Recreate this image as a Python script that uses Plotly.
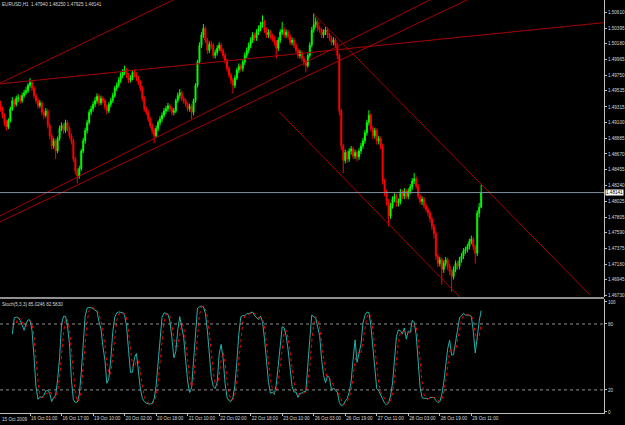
import numpy as np
import pandas as pd
import plotly.graph_objects as go

# ---------------- data (EURUSD H1) ----------------
OPEN = [
1.4935,1.4929,1.4920,1.4910,1.4904,1.4913,1.4929,1.4940,1.4935,1.4943,
1.4944,1.4940,1.4947,1.4951,1.4954,1.4961,1.4965,1.4957,1.4947,1.4940,
1.4933,1.4937,1.4924,1.4920,1.4926,1.4906,1.4892,1.4878,1.4885,1.4871,
1.4888,1.4902,1.4906,1.4899,1.4910,1.4902,1.4892,1.4885,1.4860,1.4844,
1.4837,1.4847,1.4871,1.4885,1.4899,1.4910,1.4924,1.4929,1.4935,1.4940,
1.4946,1.4937,1.4943,1.4940,1.4932,1.4926,1.4935,1.4940,1.4947,1.4957,
1.4961,1.4968,1.4975,1.4979,1.4982,1.4975,1.4968,1.4971,1.4979,1.4976,
1.4971,1.4965,1.4957,1.4943,1.4929,1.4924,1.4915,1.4906,1.4899,1.4892,
1.4902,1.4910,1.4915,1.4920,1.4926,1.4929,1.4933,1.4929,1.4924,1.4926,
1.4940,1.4947,1.4951,1.4943,1.4940,1.4935,1.4929,1.4932,1.4924,1.4940,
1.4961,1.4993,1.5016,1.5030,1.5039,1.5023,1.5009,1.5017,1.5016,1.5002,
1.5006,1.5012,1.5016,1.5009,1.5002,1.4995,1.4984,1.4975,1.4968,1.4961,
1.4971,1.4982,1.4987,1.4984,1.4993,1.5002,1.5009,1.5016,1.5023,1.5030,
1.5026,1.5034,1.5039,1.5044,1.5048,1.5037,1.5030,1.5034,1.5028,1.5026,
1.5020,1.5012,1.5023,1.5034,1.5037,1.5030,1.5034,1.5028,1.5020,1.5023,
1.5016,1.5009,1.5002,1.5006,1.4998,1.4993,1.4988,1.5002,1.5016,1.5037,
1.5044,1.5048,1.5039,1.5037,1.5030,1.5034,1.5037,1.5030,1.5026,1.5020,
1.5023,1.5016,1.5002,1.4926,1.4878,1.4858,1.4869,1.4860,1.4871,1.4874,
1.4864,1.4869,1.4863,1.4871,1.4878,1.4885,1.4896,1.4910,1.4920,1.4902,
1.4892,1.4899,1.4885,1.4888,1.4878,1.4830,1.4815,1.4802,1.4782,1.4796,
1.4805,1.4809,1.4800,1.4802,1.4815,1.4809,1.4816,1.4809,1.4816,1.4822,
1.4830,1.4833,1.4823,1.4809,1.4802,1.4805,1.4796,1.4791,1.4786,1.4778,
1.4768,1.4758,1.4727,1.4717,1.4722,1.4709,1.4717,1.4722,1.4713,1.4706,
1.4699,1.4709,1.4717,1.4713,1.4722,1.4727,1.4734,1.4736,1.4740,1.4747,
1.4750,1.4740,1.4731,1.4786,1.4794]

HIGH = [
1.4940,1.4932,1.4923,1.4914,1.4916,1.4932,1.4945,1.4943,1.4947,1.4949,
1.4948,1.4951,1.4955,1.4959,1.4964,1.4971,1.4968,1.4960,1.4950,1.4944,
1.4941,1.4939,1.4928,1.4930,1.4929,1.4909,1.4895,1.4889,1.4888,1.4891,
1.4906,1.4910,1.4909,1.4914,1.4913,1.4905,1.4895,1.4888,1.4863,1.4848,
1.4851,1.4874,1.4889,1.4903,1.4914,1.4928,1.4933,1.4939,1.4945,1.4950,
1.4949,1.4947,1.4946,1.4943,1.4935,1.4938,1.4944,1.4951,1.4960,1.4965,
1.4972,1.4979,1.4983,1.4988,1.4985,1.4978,1.4975,1.4982,1.4983,1.4979,
1.4974,1.4968,1.4960,1.4946,1.4932,1.4927,1.4918,1.4909,1.4902,1.4906,
1.4913,1.4919,1.4924,1.4930,1.4933,1.4937,1.4936,1.4932,1.4930,1.4943,
1.4951,1.4956,1.4954,1.4946,1.4943,1.4938,1.4936,1.4935,1.4943,1.4964,
1.4996,1.5020,1.5034,1.5045,1.5042,1.5026,1.5021,1.5022,1.5019,1.5010,
1.5016,1.5020,1.5019,1.5012,1.5005,1.4998,1.4987,1.4978,1.4971,1.4975,
1.4985,1.4991,1.4990,1.4997,1.5006,1.5013,1.5020,1.5027,1.5034,1.5033,
1.5038,1.5043,1.5048,1.5057,1.5051,1.5040,1.5038,1.5037,1.5032,1.5029,
1.5023,1.5027,1.5038,1.5048,1.5041,1.5038,1.5037,1.5031,1.5027,1.5026,
1.5019,1.5012,1.5010,1.5009,1.5001,1.4996,1.5005,1.5020,1.5041,1.5060,
1.5054,1.5051,1.5043,1.5040,1.5038,1.5041,1.5040,1.5033,1.5029,1.5027,
1.5026,1.5019,1.5005,1.4929,1.4881,1.4873,1.4872,1.4875,1.4878,1.4877,
1.4873,1.4872,1.4875,1.4882,1.4889,1.4900,1.4914,1.4927,1.4923,1.4905,
1.4903,1.4902,1.4892,1.4891,1.4881,1.4833,1.4818,1.4805,1.4800,1.4809,
1.4813,1.4812,1.4806,1.4819,1.4818,1.4820,1.4819,1.4820,1.4826,1.4834,
1.4841,1.4836,1.4826,1.4812,1.4809,1.4808,1.4799,1.4794,1.4789,1.4781,
1.4771,1.4761,1.4730,1.4726,1.4725,1.4721,1.4726,1.4725,1.4716,1.4709,
1.4713,1.4721,1.4720,1.4726,1.4731,1.4738,1.4740,1.4744,1.4751,1.4755,
1.4753,1.4743,1.4790,1.4800,1.4825]

LOW = [
1.4925,1.4916,1.4905,1.4899,1.4901,1.4910,1.4926,1.4931,1.4932,1.4938,
1.4936,1.4937,1.4944,1.4948,1.4951,1.4958,1.4953,1.4943,1.4936,1.4929,
1.4930,1.4920,1.4915,1.4917,1.4902,1.4887,1.4873,1.4874,1.4860,1.4868,
1.4885,1.4898,1.4895,1.4896,1.4898,1.4888,1.4880,1.4856,1.4839,1.4827,
1.4833,1.4844,1.4868,1.4881,1.4895,1.4907,1.4920,1.4925,1.4931,1.4936,
1.4933,1.4934,1.4936,1.4928,1.4921,1.4923,1.4931,1.4937,1.4944,1.4953,
1.4958,1.4964,1.4971,1.4975,1.4971,1.4964,1.4965,1.4968,1.4972,1.4967,
1.4961,1.4953,1.4939,1.4925,1.4920,1.4911,1.4902,1.4894,1.4882,1.4889,
1.4898,1.4906,1.4911,1.4917,1.4922,1.4925,1.4925,1.4920,1.4920,1.4923,
1.4937,1.4943,1.4939,1.4936,1.4931,1.4925,1.4925,1.4915,1.4920,1.4937,
1.4958,1.4990,1.5012,1.5026,1.5019,1.5004,1.5005,1.5011,1.4998,1.4998,
1.5002,1.5008,1.5005,1.4998,1.4991,1.4980,1.4971,1.4963,1.4950,1.4957,
1.4968,1.4978,1.4980,1.4980,1.4989,1.4998,1.5005,1.5012,1.5019,1.5022,
1.5022,1.5030,1.5035,1.5040,1.5033,1.5026,1.5026,1.5024,1.5021,1.5015,
1.4998,1.5008,1.5019,1.5030,1.5026,1.5026,1.5024,1.5016,1.5016,1.5012,
1.5005,1.4998,1.4998,1.4994,1.4988,1.4979,1.4985,1.4999,1.5013,1.5033,
1.5040,1.5035,1.5033,1.5026,1.5026,1.5030,1.5026,1.5022,1.5016,1.5016,
1.5012,1.4997,1.4920,1.4872,1.4841,1.4854,1.4855,1.4856,1.4866,1.4860,
1.4860,1.4857,1.4859,1.4867,1.4874,1.4881,1.4892,1.4906,1.4898,1.4887,
1.4888,1.4880,1.4880,1.4873,1.4825,1.4809,1.4796,1.4768,1.4778,1.4792,
1.4801,1.4795,1.4795,1.4798,1.4805,1.4805,1.4805,1.4805,1.4812,1.4818,
1.4826,1.4819,1.4805,1.4798,1.4797,1.4792,1.4787,1.4781,1.4773,1.4763,
1.4751,1.4722,1.4712,1.4713,1.4688,1.4704,1.4713,1.4708,1.4701,1.4678,
1.4695,1.4705,1.4708,1.4709,1.4718,1.4723,1.4730,1.4732,1.4736,1.4743,
1.4735,1.4717,1.4727,1.4780,1.47925]

CLOSE = [
1.4929,1.4920,1.4910,1.4904,1.4913,1.4929,1.4940,1.4935,1.4943,1.4944,
1.4940,1.4947,1.4951,1.4954,1.4961,1.4965,1.4957,1.4947,1.4940,1.4933,
1.4937,1.4924,1.4920,1.4926,1.4906,1.4892,1.4878,1.4885,1.4871,1.4888,
1.4902,1.4906,1.4899,1.4910,1.4902,1.4892,1.4885,1.4860,1.4844,1.4837,
1.4847,1.4871,1.4885,1.4899,1.4910,1.4924,1.4929,1.4935,1.4940,1.4946,
1.4937,1.4943,1.4940,1.4932,1.4926,1.4935,1.4940,1.4947,1.4957,1.4961,
1.4968,1.4975,1.4979,1.4982,1.4975,1.4968,1.4971,1.4979,1.4976,1.4971,
1.4965,1.4957,1.4943,1.4929,1.4924,1.4915,1.4906,1.4899,1.4892,1.4902,
1.4910,1.4915,1.4920,1.4926,1.4929,1.4933,1.4929,1.4924,1.4926,1.4940,
1.4947,1.4951,1.4943,1.4940,1.4935,1.4929,1.4932,1.4924,1.4940,1.4961,
1.4993,1.5016,1.5030,1.5039,1.5023,1.5009,1.5017,1.5016,1.5002,1.5006,
1.5012,1.5016,1.5009,1.5002,1.4995,1.4984,1.4975,1.4968,1.4961,1.4971,
1.4982,1.4987,1.4984,1.4993,1.5002,1.5009,1.5016,1.5023,1.5030,1.5026,
1.5034,1.5039,1.5044,1.5048,1.5037,1.5030,1.5034,1.5028,1.5026,1.5020,
1.5012,1.5023,1.5034,1.5037,1.5030,1.5034,1.5028,1.5020,1.5023,1.5016,
1.5009,1.5002,1.5006,1.4998,1.4993,1.4988,1.5002,1.5016,1.5037,1.5044,
1.5048,1.5039,1.5037,1.5030,1.5034,1.5037,1.5030,1.5026,1.5020,1.5023,
1.5016,1.5002,1.4926,1.4878,1.4858,1.4869,1.4860,1.4871,1.4874,1.4864,
1.4869,1.4863,1.4871,1.4878,1.4885,1.4896,1.4910,1.4920,1.4902,1.4892,
1.4899,1.4885,1.4888,1.4878,1.4830,1.4815,1.4802,1.4782,1.4796,1.4805,
1.4809,1.4800,1.4802,1.4815,1.4809,1.4816,1.4809,1.4816,1.4822,1.4830,
1.4833,1.4823,1.4809,1.4802,1.4805,1.4796,1.4791,1.4786,1.4778,1.4768,
1.4758,1.4727,1.4717,1.4722,1.4709,1.4717,1.4722,1.4713,1.4706,1.4699,
1.4709,1.4717,1.4713,1.4722,1.4727,1.4734,1.4736,1.4740,1.4747,1.4750,
1.4740,1.4731,1.4786,1.4794,1.48141]

# time-axis labels (bar index -> label)
TICK_BARS = [15, 31, 47, 63, 79, 95, 111, 127, 143, 159, 175, 191, 207, 223, 239]
TICK_TEXT = ["16 Oct 01:00", "16 Oct 17:00", "19 Oct 10:00", "20 Oct 02:00",
             "20 Oct 18:00", "21 Oct 10:00", "22 Oct 02:00", "22 Oct 18:00",
             "23 Oct 10:00", "26 Oct 03:00", "26 Oct 19:00", "27 Oct 11:00",
             "28 Oct 03:00", "28 Oct 19:00", "29 Oct 11:00"]
FIRST_LABEL = "15 Oct 2009"

PRICE_TICKS = [1.50610, 1.50395, 1.50180, 1.49965, 1.49750, 1.49535, 1.49315,
               1.49100, 1.48885, 1.48670, 1.48455, 1.48240, 1.48025, 1.47805,
               1.47590, 1.47375, 1.47160, 1.46945, 1.46730]
STOCH_TICKS = [0, 20, 80, 100]
STOCH_LEVELS = [20, 80]
LAST_PRICE = 1.48141

# trendlines: (bar, price) anchors
TL_X0 = [-0.25, -0.25, -0.25, -0.25, 158.6, 141.4]
TL_Y0 = [1.4964, 1.4963, 1.4782, 1.4774, 1.5060, 1.4925]
TL_X1 = [100.0, 306.35, 240.0, 250.0, 299.2, 236.0]
TL_Y1 = [1.5094, 1.5047, 1.5108, 1.5095, 1.4674, 1.4663]

TITLE = "EURUSD,H1  1.47940 1.48250 1.47925 1.48141"
STOCH_TITLE = "Stoch(5,3,3) 85.0246 82.5830"

# ---------------- indicator ----------------
bars = np.arange(len(CLOSE))
df = pd.DataFrame({"h": HIGH, "l": LOW, "c": CLOSE})
ll = df["l"].rolling(5).min()
hh = df["h"].rolling(5).max()
num = (df["c"] - ll).rolling(3).sum()
den = (hh - ll).rolling(3).sum()
stoch_main = 100 * num / den
stoch_sig = stoch_main.rolling(3).mean()

# ---------------- figure ----------------
AX = "#c0c0c0"
TXT = "#d8d8d8"
FONT = "Liberation Sans"
FS = 4.6

fig = go.Figure()
fig.add_trace(go.Candlestick(
    x=bars, open=OPEN, high=HIGH, low=LOW, close=CLOSE,
    xaxis="x", yaxis="y", whiskerwidth=0,
    increasing=dict(line=dict(color="#00ff00", width=1), fillcolor="#00ff00"),
    decreasing=dict(line=dict(color="#ff0000", width=1), fillcolor="#ff0000"),
    showlegend=False, hoverinfo="skip"))

for x0, y0, x1, y1 in zip(TL_X0, TL_Y0, TL_X1, TL_Y1):
    fig.add_trace(go.Scatter(x=[x0, x1], y=[y0, y1], mode="lines",
                             line=dict(color="#a80000", width=1),
                             xaxis="x", yaxis="y", showlegend=False, hoverinfo="skip"))

fig.add_trace(go.Scatter(x=bars, y=stoch_main, mode="lines",
                         line=dict(color="#20b2aa", width=1),
                         xaxis="x2", yaxis="y2", showlegend=False, hoverinfo="skip"))
fig.add_trace(go.Scatter(x=bars, y=stoch_sig, mode="lines",
                         line=dict(color="#ff0000", width=1, dash="dot"),
                         xaxis="x2", yaxis="y2", showlegend=False, hoverinfo="skip"))

shapes = [
    dict(type="line", xref="paper", x0=0, x1=1, yref="y", y0=LAST_PRICE, y1=LAST_PRICE,
         line=dict(color="#8090a0", width=1)),
    dict(type="line", xref="paper", x0=0, x1=1, yref="paper", y0=0.2785, y1=0.2785,
         line=dict(color="#909090", width=2)),
]
for lv in STOCH_LEVELS:
    shapes.append(dict(type="line", xref="paper", x0=0, x1=1, yref="y2", y0=lv, y1=lv,
                       line=dict(color="#909090", width=1, dash="dot")))

annotations = [
    dict(text=TITLE, xref="paper", yref="paper", x=0.0, y=1.0, xanchor="left",
         yanchor="top", showarrow=False, font=dict(size=FS, color=TXT, family=FONT)),
    dict(text=STOCH_TITLE, xref="paper", yref="paper", x=0.0, y=0.273, xanchor="left",
         yanchor="top", showarrow=False, font=dict(size=FS, color=TXT, family=FONT)),
    dict(text=f"{LAST_PRICE:.5f}", xref="paper", yref="y", x=1.0, y=LAST_PRICE,
         xanchor="left", yanchor="middle", showarrow=False, bgcolor="#ffffff",
         borderpad=0, xshift=1, font=dict(size=FS, color="#000000", family=FONT)),
    dict(text=FIRST_LABEL, xref="paper", yref="paper", x=0.0, y=-0.004,
         xanchor="left", yanchor="top", showarrow=False,
         font=dict(size=FS, color=TXT, family=FONT)),
]

fig.update_layout(
    width=625, height=425,
    margin=dict(l=0, r=21, t=0, b=12),
    paper_bgcolor="#000000", plot_bgcolor="#000000",
    font=dict(family=FONT, size=FS, color=TXT),
    shapes=shapes, annotations=annotations,
    xaxis=dict(domain=[0, 1], range=[-0.25, 306.35], anchor="y",
               showticklabels=False, showgrid=False, zeroline=False,
               rangeslider=dict(visible=False), ticks=""),
    xaxis2=dict(domain=[0, 1], matches="x", anchor="y2", range=[-0.25, 306.35],
                tickvals=TICK_BARS, ticktext=TICK_TEXT, tickangle=0,
                automargin=False,
                ticklabelposition="outside right", ticks="outside", ticklen=2,
                tickcolor=AX, showline=True, linecolor=AX, linewidth=1,
                showgrid=False, zeroline=False,
                tickfont=dict(size=FS, color=TXT, family=FONT)),
    yaxis=dict(domain=[0.2809, 1], range=[1.4671, 1.5078], anchor="x", side="right",
               tickvals=PRICE_TICKS, ticktext=[f"{v:.5f}" for v in PRICE_TICKS],
               ticks="outside", ticklen=2, tickcolor=AX, showline=True,
               linecolor=AX, linewidth=1, showgrid=False, zeroline=False,
               automargin=False, tickfont=dict(size=FS, color=TXT, family=FONT)),
    yaxis2=dict(domain=[0, 0.276], range=[-1, 102.7], anchor="x2", side="right",
                tickvals=STOCH_TICKS, ticktext=[str(v) for v in STOCH_TICKS],
                ticks="outside", ticklen=2, tickcolor=AX, showline=True,
                linecolor=AX, linewidth=1, showgrid=False, zeroline=False,
                automargin=False, tickfont=dict(size=FS, color=TXT, family=FONT)),
)

fig.write_html("out.html")
